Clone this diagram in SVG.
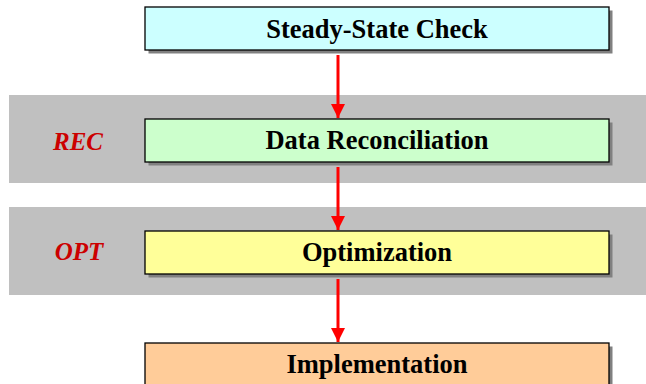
<svg xmlns="http://www.w3.org/2000/svg" width="646" height="384" viewBox="0 0 646 384">
<defs>
<style>
.band{fill:#C0C0C0}
.shadow{fill:#808080}
.box{stroke:#000;stroke-width:1.3}
.lbl{font-family:"Liberation Serif","Times New Roman",serif;font-weight:bold;font-size:26.5px;fill:#000;text-anchor:middle}
.side{font-family:"Liberation Serif","Times New Roman",serif;font-weight:bold;font-style:italic;font-size:25px;fill:#CC0000;text-anchor:middle}
.conn{stroke:#FF0000;stroke-width:3;fill:none;marker-end:url(#ah)}
</style>
<marker id="ah" markerUnits="userSpaceOnUse" markerWidth="14" markerHeight="14" viewBox="0 0 14 14" refX="14" refY="7" orient="auto">
<path d="M0,0 L14,7 L0,14 Z" fill="#FF0000"/>
</marker>
</defs>
<rect x="0" y="0" width="646" height="384" fill="#FFFFFF"/>
<g id="bands">
<rect class="band" x="9" y="95" width="637" height="88"/>
<rect class="band" x="9" y="207" width="637" height="88"/>
</g>
<g id="side-labels">
<text class="side" x="78" y="150">REC</text>
<text class="side" x="79" y="260">OPT</text>
</g>
<g id="steady-state">
<rect class="shadow" x="148.5" y="10.5" width="464" height="43"/>
<rect class="box" x="145" y="7" width="464" height="43" fill="#CCFFFF"/>
<text class="lbl" x="377" y="37.5">Steady-State Check</text>
</g>
<g id="reconciliation">
<rect class="shadow" x="148.5" y="122.5" width="464" height="43"/>
<rect class="box" x="145" y="119" width="464" height="43" fill="#CCFFCC"/>
<text class="lbl" x="377" y="149">Data Reconciliation</text>
</g>
<g id="optimization">
<rect class="shadow" x="148.5" y="234.5" width="464" height="43"/>
<rect class="box" x="145" y="231" width="464" height="43" fill="#FFFF99"/>
<text class="lbl" x="377" y="261">Optimization</text>
</g>
<g id="implementation">
<rect class="shadow" x="148.5" y="346.5" width="464" height="43"/>
<rect class="box" x="145" y="343" width="464" height="43" fill="#FFCC99"/>
<text class="lbl" x="377" y="373">Implementation</text>
</g>
<g id="connectors">
<line class="conn" x1="338" y1="55" x2="338" y2="118"/>
<line class="conn" x1="338" y1="167" x2="338" y2="230"/>
<line class="conn" x1="338" y1="279" x2="338" y2="342"/>
</g>
</svg>
